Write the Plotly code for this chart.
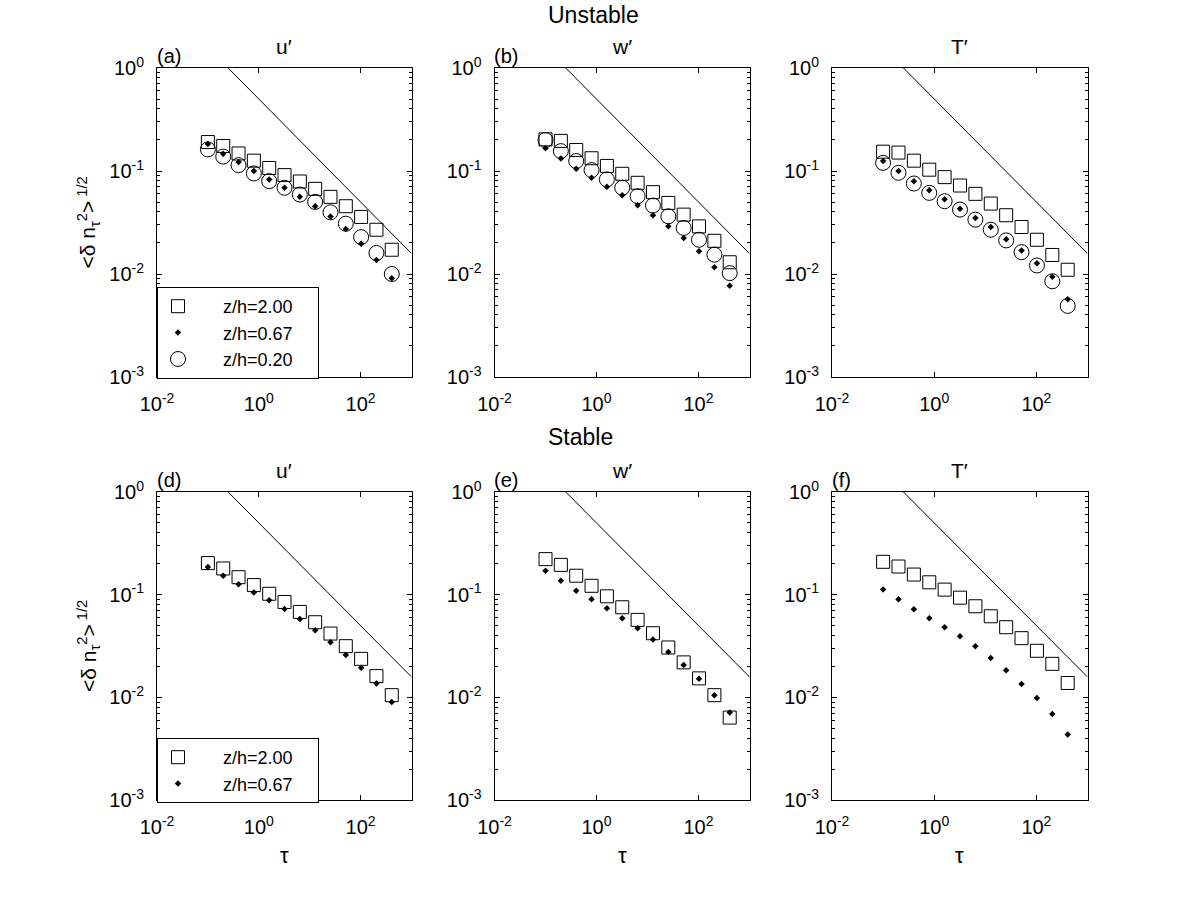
import plotly.graph_objects as go

# ---------------- data ----------------
tau = [0.1, 0.2, 0.4, 0.8, 1.6, 3.2, 6.4, 12.8, 25.6, 51.2, 102.4, 204.8, 409.6]

a_sq = [0.191, 0.175, 0.148, 0.126, 0.107, 0.0912, 0.0791, 0.0671, 0.0561, 0.0455, 0.0358, 0.0269, 0.0172]
a_dot = [0.183, 0.147, 0.122, 0.0998, 0.0828, 0.0687, 0.0561, 0.0455, 0.0361, 0.0273, 0.0197, 0.0137, 0.0091]
a_cir = [0.162, 0.138, 0.114, 0.0947, 0.0797, 0.0687, 0.0591, 0.0501, 0.0397, 0.0308, 0.0228, 0.0160, 0.0100]

b_sq = [0.203, 0.196, 0.160, 0.133, 0.112, 0.094, 0.0768, 0.0623, 0.049, 0.0377, 0.029, 0.021, 0.013]
b_dot = [0.166, 0.132, 0.105, 0.0859, 0.0702, 0.0582, 0.0465, 0.0372, 0.029, 0.0223, 0.0166, 0.0116, 0.0077]
b_cir = [0.200, 0.156, 0.125, 0.102, 0.0828, 0.0687, 0.0569, 0.0462, 0.0363, 0.028, 0.0215, 0.0154, 0.0102]

c_sq = [0.154, 0.151, 0.126, 0.103, 0.0872, 0.0723, 0.060, 0.0483, 0.0372, 0.0286, 0.0215, 0.0153, 0.011]
c_dot = [0.125, 0.100, 0.0797, 0.0652, 0.0532, 0.0431, 0.035, 0.0286, 0.0218, 0.0169, 0.0127, 0.0094, 0.0057]
c_cir = [0.120, 0.096, 0.0756, 0.0613, 0.0509, 0.0422, 0.0337, 0.0269, 0.0212, 0.0163, 0.0121, 0.0085, 0.0049]

d_sq = [0.203, 0.180, 0.148, 0.124, 0.102, 0.0849, 0.0679, 0.0539, 0.0418, 0.0315, 0.0237, 0.0161, 0.0105]
d_dot = [0.186, 0.153, 0.126, 0.105, 0.0881, 0.0726, 0.058, 0.0451, 0.0344, 0.0259, 0.0194, 0.0136, 0.009]

e_sq = [0.222, 0.195, 0.153, 0.122, 0.0964, 0.0754, 0.0568, 0.0421, 0.0306, 0.0219, 0.0153, 0.0105, 0.00635]
e_dot = [0.171, 0.137, 0.109, 0.0901, 0.0737, 0.0589, 0.0471, 0.0366, 0.0276, 0.0207, 0.0152, 0.0105, 0.0071]

f_sq = [0.209, 0.188, 0.157, 0.132, 0.112, 0.0935, 0.0771, 0.0616, 0.0482, 0.0377, 0.0284, 0.0212, 0.0138]
f_dot = [0.112, 0.0901, 0.0721, 0.0589, 0.0482, 0.0394, 0.0315, 0.0241, 0.0184, 0.0135, 0.00986, 0.00689, 0.00434]

# reference power-law line (endpoints)
ref_x = [0.25, 1000]
ref_y = [1.0, 0.0158]

series_names = ["z/h=2.00", "z/h=0.67", "z/h=0.20"]
panel_labels = ["(a)", "(b)", "", "(d)", "(e)", "(f)"]
panel_titles = ["u\u2032", "w\u2032", "T\u2032", "u\u2032", "w\u2032", "T\u2032"]
row_titles = ["Unstable", "Stable"]
x_tickvals = [1e-2, 1, 1e2]
x_ticktext = ["10<sup>-2</sup>", "10<sup>0</sup>", "10<sup>2</sup>"]
y_tickvals = [1e-3, 1e-2, 1e-1, 1]
y_ticktext = ["10<sup>-3</sup>", "10<sup>-2</sup>", "10<sup>-1</sup>", "10<sup>0</sup>"]
ylabel = "&lt;\u03b4 n<sub>\u03c4</sub><sup>2</sup>&gt;<sup> 1/2</sup>"
xlabel = "\u03c4"

# ---------------- layout geometry ----------------
W, H = 1201, 901
FONT = "Liberation Sans, Arial, Helvetica, sans-serif"
col_px = [(157, 411.5), (494.5, 749.5), (832, 1087.5)]
row_px = [(68, 377), (492, 800)]

fig = go.Figure()

panels = [
    (a_sq, a_dot, a_cir), (b_sq, b_dot, b_cir), (c_sq, c_dot, c_cir),
    (d_sq, d_dot, None), (e_sq, e_dot, None), (f_sq, f_dot, None),
]

pad = "\u00a0" * 5
tail = "\u00a0" * 4

for i, (sq, dot, cir) in enumerate(panels):
    n = i + 1
    xa = "x" if n == 1 else f"x{n}"
    ya = "y" if n == 1 else f"y{n}"
    legend_id = "legend2" if i == 3 else "legend"
    show = i in (0, 3)
    fig.add_trace(go.Scatter(x=ref_x, y=ref_y, mode="lines", xaxis=xa, yaxis=ya,
                             line=dict(color="black", width=1), showlegend=False,
                             hoverinfo="skip"))
    fig.add_trace(go.Scatter(x=tau, y=sq, mode="markers", xaxis=xa, yaxis=ya,
                             name=pad + series_names[0] + tail, showlegend=show,
                             legend=legend_id,
                             marker=dict(symbol="square-open", size=13, color="black",
                                         line=dict(width=1, color="black"))))
    fig.add_trace(go.Scatter(x=tau, y=dot, mode="markers", xaxis=xa, yaxis=ya,
                             name=pad + series_names[1] + tail, showlegend=show,
                             legend=legend_id,
                             marker=dict(symbol="diamond", size=5, color="black",
                                         line=dict(width=0))))
    if cir is not None:
        fig.add_trace(go.Scatter(x=tau, y=cir, mode="markers", xaxis=xa, yaxis=ya,
                                 name=pad + series_names[2] + tail, showlegend=show,
                                 legend=legend_id,
                                 marker=dict(symbol="circle-open", size=15, color="black",
                                             line=dict(width=1, color="black"))))

annotations = []
minor_y = [m * 10.0 ** e for e in range(-3, 0) for m in range(2, 10)]
layout = dict(width=W, height=H, margin=dict(l=0, r=0, t=0, b=0, autoexpand=False),
              paper_bgcolor="white", plot_bgcolor="white",
              font=dict(family=FONT, size=20, color="black"))

for i in range(6):
    n = i + 1
    r, c = divmod(i, 3)
    x0, x1 = col_px[c]
    y0, y1 = row_px[r]
    xkey = "xaxis" if n == 1 else f"xaxis{n}"
    ykey = "yaxis" if n == 1 else f"yaxis{n}"
    xa = "x" if n == 1 else f"x{n}"
    ya = "y" if n == 1 else f"y{n}"
    layout[xkey] = dict(type="log", range=[-2, 3], domain=[x0 / W, x1 / W], anchor=ya,
                        showline=True, linecolor="black", linewidth=1, mirror="ticks",
                        ticks="inside", ticklen=5, tickcolor="black", automargin=False,
                        tickmode="array", tickvals=x_tickvals, ticktext=x_ticktext,
                        showgrid=False, zeroline=False, ticklabelstandoff=9,
                        tickfont=dict(family=FONT, size=20, color="black"))
    layout[ykey] = dict(type="log", range=[-3, 0], domain=[1 - y1 / H, 1 - y0 / H], anchor=xa,
                        showline=True, linecolor="black", linewidth=1, mirror="ticks",
                        ticks="inside", ticklen=5, tickcolor="black", automargin=False,
                        tickmode="array", tickvals=y_tickvals, ticktext=y_ticktext,
                        minor=dict(ticks="inside", ticklen=3, tickcolor="black",
                                   tickmode="array", tickvals=minor_y, showgrid=False),
                        showgrid=False, zeroline=False, ticklabelstandoff=8,
                        tickfont=dict(family=FONT, size=20, color="black"))
    if panel_labels[i]:
        annotations.append(dict(text=panel_labels[i], x=(x0 - 2) / W, y=1 - (y0 - 12) / H,
                                xref="paper", yref="paper", xanchor="left", yanchor="middle",
                                showarrow=False, font=dict(family=FONT, size=20)))
    annotations.append(dict(text=panel_titles[i], x=(x0 + x1) / 2 / W, y=1 - (y0 - 22) / H,
                            xref="paper", yref="paper", xanchor="center", yanchor="middle",
                            showarrow=False, font=dict(family=FONT, size=21)))
    if r == 1:
        annotations.append(dict(text=xlabel, x=(x0 + x1) / 2 / W, y=1 - 855 / H,
                                xref="paper", yref="paper", xanchor="center", yanchor="middle",
                                showarrow=False, font=dict(family=FONT, size=22)))
    if c == 0:
        annotations.append(dict(text=ylabel, x=88 / W, y=1 - (y0 + y1) / 2 / H,
                                xref="paper", yref="paper", xanchor="center", yanchor="middle",
                                textangle=-90, showarrow=False, font=dict(family=FONT, size=21)))

annotations.append(dict(text=row_titles[0], x=546 / W, y=1 - 15 / H, xref="paper", yref="paper",
                        xanchor="left", yanchor="middle", showarrow=False,
                        font=dict(family=FONT, size=23)))
annotations.append(dict(text=row_titles[1], x=546 / W, y=1 - 437 / H, xref="paper", yref="paper",
                        xanchor="left", yanchor="middle", showarrow=False,
                        font=dict(family=FONT, size=23)))
layout["annotations"] = annotations

leg_common = dict(bgcolor="white", bordercolor="black", borderwidth=1,
                  xanchor="left", yanchor="top", font=dict(family=FONT, size=18),
                  tracegroupgap=0, itemsizing="trace")
layout["legend"] = dict(x=157 / W, y=1 - 287 / H, **leg_common)
layout["legend2"] = dict(x=157 / W, y=1 - 738 / H, **leg_common)

fig.update_layout(**layout)
fig.write_html("out.html")
